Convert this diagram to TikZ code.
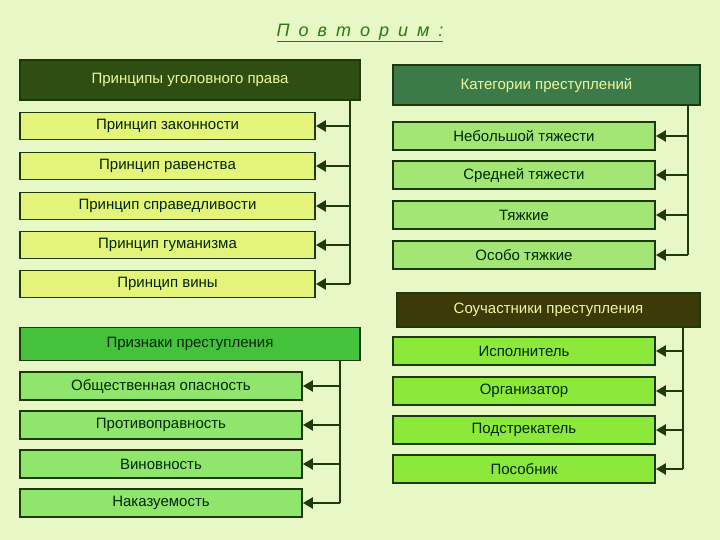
\documentclass[tikz,border=0pt]{standalone}
\usepackage{fontspec}
\setmainfont{Liberation Sans}
\usetikzlibrary{arrows.meta}
\definecolor{bg}{HTML}{E8F7C6}
\definecolor{dk}{HTML}{1E3A0A}
\definecolor{hdA}{HTML}{2E4E12}
\definecolor{hdB}{HTML}{3D7A4A}
\definecolor{hdC}{HTML}{3B3A08}
\definecolor{hdD}{HTML}{44C23C}
\definecolor{itA}{HTML}{E4F47A}
\definecolor{itB}{HTML}{A4E675}
\definecolor{itC}{HTML}{8CE83A}
\definecolor{itD}{HTML}{90E66C}
\definecolor{ttl}{HTML}{2A7A10}
\tikzset{
 box/.style={draw=dk,line width=1.8pt,inner sep=0pt,font=\fontsize{15}{17}\selectfont,text=black!85!green},
 hd/.style={box,text=bg!80!yellow},
 con/.style={draw=dk,line width=2.4pt},
 arr/.style={con,-{Triangle[length=10pt,width=11pt]}}
}
\begin{document}
\begin{tikzpicture}[x=1pt,y=-1pt]
\fill[bg] (0,0) rectangle (720,540);
\useasboundingbox (0,0) rectangle (720,540);
\node[text=ttl,font=\itshape\fontsize{18}{20}\selectfont] (t) at (360,33) {\underline{П\,\,\,о\,\,\,в\,\,\,т\,\,\,о\,\,\,р\,\,\,и\,\,\,м\,\,\,:}};
% group A
\node[hd,fill=hdA,minimum width=340,minimum height=40] (a0) at (190,80) {Принципы уголовного права};
\foreach \n/\y/\s in {1/126/Принцип законности,2/166/Принцип равенства,3/206/Принцип справедливости,4/245/Принцип гуманизма,5/284/Принцип вины}{
 \node[box,fill=itA,minimum width=295,minimum height=27] (a\n) at (167.5,\y) {\s};
 \draw[arr] (350,\y) -- (a\n.east);}
\draw[con] (350,100) -- (350,284);
% group B
\node[hd,fill=hdB,minimum width=307,minimum height=40] (b0) at (546.5,85) {Категории преступлений};
\foreach \n/\y/\s in {1/136/Небольшой тяжести,2/175/Средней тяжести,3/215/Тяжкие,4/255/Особо тяжкие}{
 \node[box,fill=itB,minimum width=262,minimum height=28] (b\n) at (524,\y) {\s};
 \draw[arr] (688,\y) -- (b\n.east);}
\draw[con] (688,105) -- (688,255);
% group C
\node[hd,fill=hdC,minimum width=303,minimum height=34] (c0) at (548.5,310) {Соучастники преступления};
\foreach \n/\y/\s in {1/351/Исполнитель,2/391/Организатор,3/430/Подстрекатель,4/469/Пособник}{
 \node[box,fill=itC,minimum width=262,minimum height=28] (c\n) at (524,\y) {\s};
 \draw[arr] (683,\y) -- (c\n.east);}
\draw[con] (683,327) -- (683,469);
% group D
\node[box,fill=hdD,minimum width=340,minimum height=33] (d0) at (190,344) {Признаки преступления};
\foreach \n/\y/\s in {1/386/Общественная опасность,2/425/Противоправность,3/464/Виновность,4/503/Наказуемость}{
 \node[box,fill=itD,minimum width=282,minimum height=28] (d\n) at (161,\y) {\s};
 \draw[arr] (340,\y) -- (d\n.east);}
\draw[con] (340,360) -- (340,503);
\end{tikzpicture}
\end{document}
